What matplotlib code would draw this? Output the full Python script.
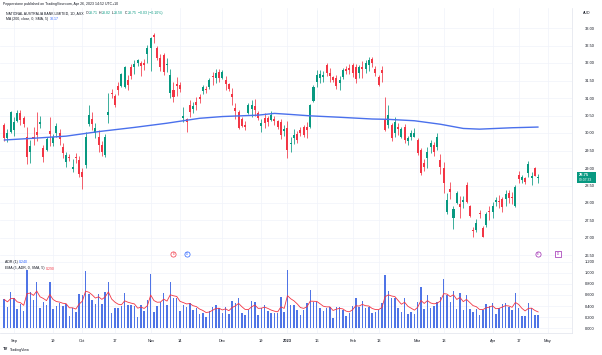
import numpy as np
import pandas as pd
import matplotlib
matplotlib.use("Agg")
import matplotlib.pyplot as plt
from matplotlib.transforms import blended_transform_factory

plt.rcParams['font.family'] = ['Liberation Sans', 'DejaVu Sans']

# ---------------- data ----------------
holidays = ['2022-09-22', '2022-12-26', '2022-12-27', '2023-01-02',
            '2023-01-26', '2023-04-07', '2023-04-10', '2023-04-25']
first_day = '2022-08-29'
last_day = '2023-04-26'

opens = [30.23, 29.86, 30.03, 30.09, 30.34, 30.57, 30.43, 29.89, 29.46, 29.89,
         30.03, 30.27, 29.57, 29.51, 30.06, 29.71, 30.00, 30.00, 29.60, 29.17,
         29.31, 28.97, 29.31, 29.23, 28.89, 29.09, 30.26, 30.40, 30.00, 29.89,
         29.66, 29.37, 30.51, 31.14, 31.06, 31.34, 31.34, 31.31, 31.51, 31.89,
         31.89, 32.00, 32.00, 32.00, 32.26, 32.43, 32.80, 32.43, 32.14, 32.23,
         31.94, 31.14, 31.23, 31.40, 31.37, 30.43, 30.40, 30.80, 30.69, 30.89,
         31.03, 31.20, 31.26, 31.31, 31.63, 31.57, 31.74, 31.57, 31.51, 31.40,
         31.11, 30.71, 30.60, 30.40, 30.23, 30.57, 30.69, 30.77, 30.57, 30.20,
         30.43, 30.43, 30.37, 30.40, 30.34, 30.31, 30.06, 30.14, 29.69, 29.86,
         29.97, 30.09, 30.17, 30.17, 30.17, 30.91, 31.46, 31.57, 31.60, 31.94,
         31.71, 31.60, 31.57, 31.43, 31.60, 31.83, 31.86, 31.94, 31.89, 31.71,
         31.89, 31.83, 31.94, 32.11, 31.83, 31.60, 31.80, 30.37, 30.23, 30.23,
         30.00, 30.17, 29.89, 30.17, 29.77, 29.89, 29.89, 29.80, 29.51, 29.14,
         29.29, 29.60, 29.66, 29.60, 29.23, 29.00, 27.74, 28.40, 27.57, 28.00,
         27.97, 28.03, 28.51, 27.91, 27.23, 27.23, 27.71, 27.29, 27.37, 27.77,
         27.74, 28.03, 28.07, 28.11, 28.11, 28.29, 28.17, 27.91, 28.80, 28.66,
         28.71, 28.86, 28.71, 29.00, 28.71]

closes = [29.86, 30.00, 30.60, 30.31, 30.57, 30.37, 30.26, 29.31, 29.63, 29.83,
          29.94, 30.31, 29.31, 29.83, 29.97, 29.89, 30.20, 29.83, 29.43, 29.37,
          29.28, 29.03, 29.28, 28.83, 28.74, 29.89, 30.51, 30.26, 30.14, 29.66,
          29.46, 29.89, 30.60, 31.11, 30.80, 31.23, 31.69, 31.89, 31.37, 31.63,
          31.97, 32.09, 31.91, 31.94, 32.43, 32.71, 32.74, 32.14, 31.89, 31.74,
          31.97, 31.66, 31.03, 31.34, 31.26, 30.49, 30.31, 30.60, 30.77, 30.80,
          30.97, 31.31, 31.23, 31.51, 31.60, 31.71, 31.57, 31.74, 31.40, 31.26,
          31.03, 30.63, 30.14, 30.20, 30.17, 30.80, 30.80, 30.66, 30.43, 30.29,
          30.29, 30.31, 30.51, 30.34, 30.17, 29.94, 30.11, 29.51, 29.71, 29.94,
          29.80, 30.00, 29.94, 30.09, 30.80, 31.31, 31.66, 31.69, 31.66, 31.71,
          31.63, 31.51, 31.34, 31.51, 31.80, 31.77, 31.80, 31.71, 31.54, 31.89,
          31.83, 32.00, 32.09, 32.00, 31.71, 31.37, 31.71, 30.09, 30.51, 29.86,
          30.31, 30.11, 30.11, 29.80, 29.86, 30.00, 30.00, 29.43, 28.86, 29.03,
          29.46, 29.71, 29.46, 29.89, 29.03, 28.57, 28.09, 28.31, 27.83, 28.29,
          27.89, 28.09, 28.03, 27.63, 27.20, 27.43, 27.69, 27.03, 27.69, 27.74,
          27.91, 28.09, 28.04, 27.89, 28.26, 28.14, 28.14, 28.46, 28.69, 28.74,
          28.60, 29.11, 28.77, 28.78, 28.75]

highs = [30.30, 30.12, 30.64, 30.47, 30.66, 30.66, 30.50, 30.17, 29.79, 30.17,
         30.60, 30.49, 29.66, 29.90, 30.46, 29.97, 30.29, 30.12, 29.71, 29.46,
         29.41, 29.25, 29.43, 29.35, 29.00, 30.02, 30.80, 30.60, 30.28, 30.08,
         29.76, 29.96, 31.14, 31.26, 31.11, 31.46, 31.71, 31.92, 31.65, 31.97,
         32.09, 32.12, 32.06, 32.12, 32.52, 32.74, 32.86, 32.50, 32.25, 32.30,
         32.15, 31.84, 31.45, 31.60, 31.47, 30.74, 30.42, 30.93, 30.89, 31.02,
         31.12, 31.38, 31.35, 31.57, 31.75, 31.84, 31.83, 31.80, 31.63, 31.44,
         31.29, 30.86, 30.66, 30.45, 30.33, 30.86, 30.94, 30.96, 30.62, 30.40,
         30.56, 30.50, 30.62, 30.49, 30.38, 30.40, 30.22, 30.34, 29.88, 30.12,
         30.05, 30.16, 30.22, 30.32, 30.84, 31.37, 31.80, 31.80, 31.78, 32.00,
         31.85, 31.64, 31.66, 31.63, 31.86, 31.91, 31.96, 32.00, 31.98, 31.95,
         32.05, 32.08, 32.17, 32.16, 31.92, 31.67, 31.92, 31.03, 30.80, 30.30,
         30.45, 30.30, 30.16, 30.25, 29.92, 30.08, 30.14, 29.85, 29.56, 29.26,
         29.60, 29.80, 29.75, 30.00, 29.40, 29.17, 28.29, 28.60, 27.92, 28.33,
         28.20, 28.20, 28.60, 27.95, 27.32, 27.53, 27.80, 27.35, 27.74, 27.92,
         28.03, 28.17, 28.22, 28.17, 28.37, 28.38, 28.30, 28.52, 28.92, 28.80,
         28.75, 29.19, 28.88, 29.02, 28.82]

lows = [29.78, 29.73, 29.99, 29.92, 30.31, 30.23, 30.18, 29.12, 29.14, 29.66,
        29.77, 30.13, 29.18, 29.48, 29.63, 29.63, 29.88, 29.67, 29.30, 29.03,
        29.19, 28.88, 29.13, 28.74, 28.40, 28.99, 30.19, 30.09, 29.85, 29.47,
        29.33, 29.31, 30.30, 30.99, 30.75, 31.10, 31.31, 31.28, 31.23, 31.55,
        31.68, 31.91, 31.64, 31.81, 32.01, 31.76, 32.56, 32.09, 31.77, 31.67,
        31.73, 31.01, 30.90, 31.05, 31.16, 30.32, 30.03, 30.47, 30.56, 30.66,
        30.86, 31.11, 31.14, 31.26, 31.36, 31.42, 31.46, 31.53, 31.24, 31.19,
        30.80, 30.40, 30.12, 30.18, 30.09, 30.53, 30.45, 30.48, 30.38, 30.03,
        30.14, 30.19, 30.35, 30.22, 30.11, 29.83, 29.92, 29.29, 29.46, 29.70,
        29.72, 29.92, 29.89, 29.87, 30.15, 30.89, 31.32, 31.44, 31.47, 31.64,
        31.46, 31.45, 31.27, 31.24, 31.53, 31.68, 31.69, 31.59, 31.43, 31.56,
        31.56, 31.72, 31.78, 31.89, 31.62, 31.34, 31.47, 30.07, 30.13, 29.76,
        29.90, 29.94, 29.86, 29.71, 29.67, 29.79, 29.88, 29.37, 28.81, 28.92,
        29.00, 29.43, 29.34, 29.52, 28.83, 28.28, 27.69, 28.12, 27.25, 27.98,
        27.57, 27.87, 28.00, 27.60, 27.02, 27.18, 27.56, 27.02, 27.31, 27.51,
        27.58, 27.92, 27.85, 27.74, 27.91, 27.99, 27.97, 27.88, 28.56, 28.58,
        28.53, 28.74, 28.51, 28.78, 28.58]

# 200-day SMA at sample bars
ma_idx = [0, 9, 19, 29, 40, 50, 60, 67, 78, 83, 88, 94, 103, 113, 118, 126, 134, 141, 146, 156, 164]
ma_val = [29.80, 29.85, 29.91, 30.04, 30.16, 30.28, 30.42, 30.47, 30.51, 30.56, 30.53,
          30.49, 30.45, 30.40, 30.39, 30.35, 30.25, 30.13, 30.11, 30.15, 30.17]

tick_dates = ['2022-09-01', '2022-09-19', '2022-10-03', '2022-10-17', '2022-11-01',
              '2022-11-14', '2022-12-01', '2022-12-19', '2023-01-03', '2023-01-16',
              '2023-02-01', '2023-02-13', '2023-03-01', '2023-03-13', '2023-04-03',
              '2023-04-17', '2023-05-01']
tick_labels = ['Sep', '19', 'Oct', '17', 'Nov', '14', 'Dec', '19', '2023', '16',
               'Feb', '13', 'Mar', '13', 'Apr', '17', 'May']

price_ticks = [26.5, 27.0, 27.5, 28.0, 28.5, 29.0, 29.5, 30.0, 30.5, 31.0, 31.5, 32.0, 32.5, 33.0]
adr_ticks = [0.0, 0.2, 0.4, 0.6, 0.8, 1.0, 1.2]

# corporate event icons (date, letter, colour, shape)
events = [('2022-11-10', 'E', '#f23645', 'o'), ('2022-11-16', 'D', '#2962ff', 'o'),
          ('2023-04-26', 'E', '#9c27b0', 'o'), ('2023-05-04', 'D', '#9c27b0', 's')]

# ---------------- derived ----------------
o = np.array(opens); c = np.array(closes); h = np.array(highs); l = np.array(lows)
cal = pd.bdate_range(first_day, '2023-05-31', freq='C', holidays=holidays)
days = cal[cal <= pd.Timestamp(last_day)]
n = len(o)
xi = np.arange(n)
pos = {d: i for i, d in enumerate(cal)}
tick_pos = [pos[pd.Timestamp(d)] for d in tick_dates]

adr = h - l
ema = pd.Series(adr).ewm(span=5, adjust=False).mean().values

GREEN = '#089981'
RED = '#f23645'
BLUE = '#2962ff'
TXT = '#131722'
GRID = '#f0f3fa'
cols = np.where(c >= o, GREEN, RED)

# ---------------- figure ----------------
W, H = 602, 355
fig = plt.figure(figsize=(W / 100, H / 100), dpi=100)
fig.patch.set_facecolor('white')


def fx(px):
    return px / W


def fy(py):
    return 1 - py / H


ax1 = fig.add_axes([0, fy(260), fx(572), (260 - 8) / H])
ax2 = fig.add_axes([0, fy(333), fx(572), (333 - 260) / H], sharex=ax1)

XMIN, XMAX = -1.29, 174.4

# price pane
ax1.vlines(xi, l, h, colors=cols, linewidth=0.55, zorder=3)
body = np.maximum(np.abs(c - o), 0.015)
ax1.bar(xi, body, bottom=np.minimum(o, c), width=0.62, color=cols, linewidth=0, zorder=4)
ax1.plot(ma_idx, ma_val, color='#4a70ec', linewidth=1.0, zorder=5, solid_capstyle='round')
ax1.set_xlim(XMIN, XMAX)
ax1.set_ylim(33.8 - 260 / 35, 33.8 - 8 / 35)
ax1.set_yticks(price_ticks)
ax1.set_yticklabels([f'{v:.2f}' for v in price_ticks])
ax1.yaxis.tick_right()
ax1.tick_params(axis='y', length=0, pad=9, labelsize=2.9, labelcolor=TXT)
ax1.tick_params(axis='x', length=0, labelbottom=False)
ax1.set_xticks(tick_pos)
ax1.grid(True, color=GRID, linewidth=0.5, zorder=0)

# event icons
tr = blended_transform_factory(ax1.transData, ax1.transAxes)
for d, letter, colr, shp in events:
    ex = pos[pd.Timestamp(d)]
    ax1.scatter([ex], [0.024], s=14, marker=shp, facecolor='white', edgecolor=colr,
                linewidth=0.5, transform=tr, zorder=6, clip_on=False)
    ax1.text(ex, 0.024, letter, transform=tr, color=colr, fontsize=2.2,
             ha='center', va='center', zorder=7)

# ADR pane
ax2.bar(xi, adr, width=0.45, color='#4f74e6', linewidth=0, zorder=3)
ax2.plot(xi, ema, color=RED, linewidth=0.6, zorder=4)
ax2.set_ylim((328.3 - 333) / 55.5, (328.3 - 260) / 55.5)
ax2.set_yticks(adr_ticks)
ax2.set_yticklabels([f'{v:.3f}' for v in adr_ticks])
ax2.yaxis.tick_right()
ax2.tick_params(axis='y', length=0, pad=9, labelsize=2.9, labelcolor=TXT)
ax2.set_xticks(tick_pos)
ax2.set_xticklabels(tick_labels)
ax2.tick_params(axis='x', length=0, pad=4, labelsize=2.9, labelcolor=TXT)
for lab in ax2.get_xticklabels():
    if lab.get_text() == '2023':
        lab.set_fontweight('bold')
ax2.grid(True, color=GRID, linewidth=0.5, zorder=0)

for ax in (ax1, ax2):
    for s in ('top', 'left'):
        ax.spines[s].set_visible(False)
    for s in ('right', 'bottom'):
        ax.spines[s].set_color('#e0e3eb')
        ax.spines[s].set_linewidth(0.5)

# ---------------- texts ----------------
renderer = fig.canvas.get_renderer()


def chain(x_px, y_px, parts, size, weight='normal'):
    xx = x_px
    for s, colr, gap in parts:
        t = fig.text(fx(xx), fy(y_px), s, color=colr, fontsize=size, fontweight=weight,
                     ha='left', va='center')
        bb = t.get_window_extent(renderer)
        xx += bb.width + gap


fig.text(fx(3), fy(4), 'Pepperstone published on TradingView.com, Apr 26, 2023 14:52 UTC+10',
         fontsize=2.5, color=TXT, ha='left', va='center')

chain(6, 13.3, [('NATIONAL AUSTRALIA BANK LIMITED, 1D, ASX', TXT, 2.0),
                ('O', TXT, 0.3), ('28.71', GREEN, 1.4),
                ('H', TXT, 0.3), ('28.82', GREEN, 1.4),
                ('L', TXT, 0.3), ('28.58', GREEN, 1.4),
                ('C', TXT, 0.3), ('28.75', GREEN, 1.4),
                ('\u22120.03 (\u22120.10%)', GREEN, 0)], 2.5)
chain(6, 18.8, [('MA (200, close, 0, SMA, 5)', TXT, 1.5), ('30.17', BLUE, 0)], 2.5)

chain(5, 261.9, [('ADR (1)', TXT, 1.5), ('0.240', BLUE, 0)], 2.5)
chain(5, 268.5, [('EMA (5, ADR, 0, SMA, 5)', TXT, 1.5), ('0.290', RED, 0)], 2.5)

fig.text(fx(583), fy(13), 'AUD', fontsize=2.6, color=TXT, ha='left', va='center')

# last price label
ly = 28 + (33 - c[-1]) * 35
fig.patches.append(plt.Rectangle((fx(577), fy(ly + 6)), fx(19), 11 / H, transform=fig.transFigure,
                                 facecolor=GREEN, edgecolor='none'))
fig.text(fx(579), fy(ly - 1.5), f'{c[-1]:.2f}', fontsize=2.9, color='white', ha='left', va='center',
         fontweight='bold')
fig.text(fx(579), fy(ly + 3), '09:07:33', fontsize=2.4, color='white', ha='left', va='center')

# logo
fig.text(fx(3), fy(349.5), 'TV', fontsize=3.0, color=TXT, fontweight='bold', ha='left', va='center')
fig.text(fx(10), fy(349.5), 'TradingView', fontsize=2.6, color=TXT, ha='left', va='center')

fig.savefig('out.png', dpi=100, facecolor='white')
